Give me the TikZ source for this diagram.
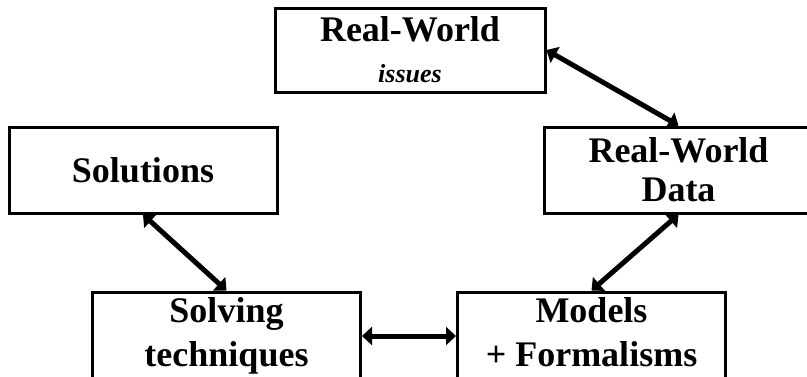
\documentclass[tikz,border=0pt]{standalone}
\usepackage{fontspec}
\setmainfont{Liberation Serif}
\usetikzlibrary{positioning, arrows.meta}
\tikzset{
  box/.style={rectangle, draw=black, line width=3pt, minimum width=268pt, minimum height=86pt, inner sep=0pt, text centered, align=center, font=\bfseries\fontsize{36}{44}\selectfont},
  arrow/.style={line width=5pt, {Triangle[length=10pt,width=18pt]}-{Triangle[length=10pt,width=18pt]}}
}
\begin{document}
\begin{tikzpicture}[x=1pt, y=-1pt]
    \useasboundingbox (0,0) rectangle (807,376);
    \clip (0,0) rectangle (807,376);

    % --- Fila superior ---
    \node (issues) [box, minimum width=270pt, minimum height=84pt] at (410,50) {Real-World\\[-3pt]{\fontsize{26}{26}\selectfont\itshape issues}};
    \node (solutions) [box] at (143,170) {Solutions};
    \node (data) [box] at (678.5,170) {Real-World\\[-5pt]Data};

    % --- Fila inferior ---
    \node (solving) [box, minimum height=88pt] at (226.5,336) {Solving\\techniques};
    \node (models) [box, minimum height=88pt, text depth=7pt, right=94pt of solving] {Models\\+ Formalisms};

    % --- Conexiones ---
    \draw [arrow] (issues.east) -- (data.north);
    \draw [arrow] (data.south) -- (models.north);
    \draw [arrow] (solutions.south) -- (solving.north);
    \draw [arrow] (solving.east) -- (models.west);
\end{tikzpicture}
\end{document}
